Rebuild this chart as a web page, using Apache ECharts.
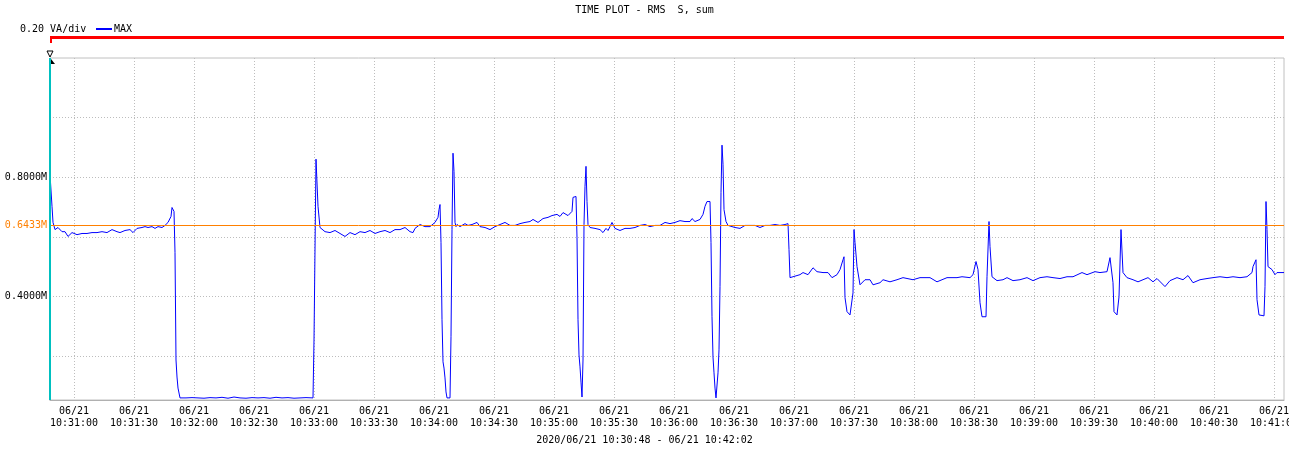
<!DOCTYPE html>
<html><head><meta charset="utf-8">
<script src="https://cdn.jsdelivr.net/npm/echarts@6/dist/echarts.min.js"></script>
<style>html,body{margin:0;padding:0;background:#fff}#c{width:1289px;height:450px}</style>
</head><body><div id="c"></div>
<script>
// ---- data (times: seconds after 10:30:48; values: MVA) ----
const titleText = 'TIME PLOT - RMS  S, sum';
const scaleText = '0.20 VA/div';
const rangeText = '2020/06/21 10:30:48 - 06/21 10:42:02';
const startLabel = '10:30:48';
const endSec = 617;
const dateLabel = '06/21';
const tickLabels = ['10:31:00','10:31:30','10:32:00','10:32:30','10:33:00','10:33:30','10:34:00','10:34:30',
  '10:35:00','10:35:30','10:36:00','10:36:30','10:37:00','10:37:30','10:38:00','10:38:30','10:39:00',
  '10:39:30','10:40:00','10:40:30','10:41:00'];
const yMin = 0.054, yMax = 1.2;
const yGridValues = [0.2, 0.4, 0.6, 0.8, 1.0];
const yLabelValues = [0.4, 0.8];
const refValue = 0.6433;

const sec = [
  0,1,1.5,2.5,4,6,7.5,9,11,13.5,16,18.5,21,23.5,26,28.5,31,33.5,35,37.5,40,41.5,43.5,46,47.5,49,51,52.5,54,56,57.5,59,60.5,61,62,62.5,63,63.5,64,65,
  68,71,74,77,80,83,86,89,92,95,98,101,104,107,110,113,116,119,122,125,128,131.5,
  132,133,133.5,134,135,
  137.5,140,142.5,145,147.5,150,152.5,155,157.5,160,162.5,165,167.5,170,172.5,175,177.5,180,181.5,182.5,185,187.5,190,192.5,194,194.5,195,
  195.5,196,196.5,197,197.5,198,198.5,200,200.5,201,201.5,202,202.5,203,
  203.5,205,207.5,209,211,213.5,215,217.5,220,222.5,225,227.5,230,232.5,235,237.5,240,241.5,244,246.5,249,251,253.5,255,256.5,259,261,261.5,263,
  263.5,264,264.5,265,265.5,266,266.5,267,267.5,268,268.5,269,270,
  272.5,275,276.5,278,279,280,281,282.5,285,287.5,290,292.5,295,297.5,300,302.5,305,307.5,310,312.5,315,317.5,320,321,322.5,325,326.5,327.5,328.5,330,
  330.5,331,331.5,332,332.5,333,333.5,334,334.5,335,335.5,336,336.5,337,338,339,
  340,342.5,345,347.5,350,352.5,355,357.5,360,362.5,365,367.5,369,369.5,370,
  371.5,375,376.5,379,381.5,383.5,386.5,389,391,393.5,395,396.5,397,397.5,398.5,400,401,401.5,402,402.5,403.5,405,
  407.5,410,411.5,415,416.5,420,423.5,426.5,431.5,435,440,443.5,448.5,453.5,456,460,461.5,463,464,465,466,468,468.5,469.5,470,471,
  473.5,476.5,478.5,481.5,485,488.5,491.5,495,498.5,501.5,505,508.5,511.5,516,518.5,522.5,525,528.5,530,531.5,532,533.5,534,534.5,535.5,536.5,
  538.5,541.5,544,546.5,549,551.5,553.5,557.5,560,563.5,566.5,569,571.5,575,578.5,581.5,585,588.5,591.5,595,598.5,601,601.5,603,603.5,604.5,607,607.5,608,608.5,609,
  611,612.5,613.5,615,617
];
const rms = [
  0.810,0.703,0.649,0.625,0.632,0.618,0.618,0.602,0.615,0.608,0.612,0.612,0.615,0.615,0.618,0.615,0.625,0.618,0.615,0.622,0.625,0.615,0.629,0.632,0.635,0.632,0.635,0.629,0.635,0.632,0.639,0.649,0.669,0.699,0.686,0.548,0.188,0.131,0.094,0.061,
  0.061,0.062,0.061,0.060,0.062,0.061,0.063,0.060,0.064,0.061,0.060,0.062,0.061,0.062,0.060,0.063,0.061,0.062,0.060,0.061,0.062,0.061,
  0.255,0.861,0.857,0.703,0.632,
  0.618,0.615,0.622,0.612,0.602,0.615,0.608,0.618,0.615,0.622,0.612,0.618,0.622,0.615,0.625,0.625,0.632,0.618,0.615,0.629,0.642,0.635,0.635,0.649,0.666,0.692,0.709,
  0.582,0.323,0.182,0.161,0.128,0.081,0.061,0.061,0.266,0.625,0.881,0.820,0.649,0.635,
  0.642,0.635,0.645,0.639,0.642,0.649,0.635,0.632,0.625,0.635,0.642,0.649,0.639,0.639,0.645,0.649,0.652,0.659,0.649,0.662,0.666,0.672,0.676,0.669,0.682,0.672,0.686,0.733,0.736,
  0.598,0.323,0.205,0.165,0.114,0.064,0.188,0.642,0.770,0.837,0.719,0.642,0.632,
  0.629,0.625,0.615,0.629,0.622,0.635,0.649,0.629,0.622,0.629,0.629,0.632,0.639,0.642,0.635,0.639,0.639,0.649,0.645,0.649,0.655,0.652,0.652,0.662,0.652,0.659,0.676,0.703,0.719,0.719,
  0.582,0.333,0.198,0.145,0.094,0.061,0.061,0.145,0.222,0.434,0.750,0.908,0.844,0.692,0.652,0.639,
  0.639,0.632,0.629,0.639,0.639,0.639,0.632,0.639,0.639,0.642,0.639,0.642,0.645,0.558,0.464,
  0.467,0.474,0.481,0.474,0.497,0.484,0.481,0.481,0.464,0.474,0.491,0.524,0.534,0.397,0.350,0.339,0.333,0.413,0.625,0.582,0.501,0.440,
  0.457,0.457,0.440,0.447,0.457,0.450,0.457,0.464,0.457,0.464,0.464,0.450,0.464,0.464,0.467,0.464,0.474,0.518,0.491,0.380,0.333,0.333,0.467,0.652,0.568,0.467,
  0.454,0.457,0.464,0.454,0.457,0.464,0.454,0.464,0.467,0.464,0.461,0.467,0.467,0.481,0.474,0.484,0.481,0.484,0.531,0.447,0.350,0.339,0.336,0.400,0.625,0.481,
  0.464,0.457,0.450,0.457,0.464,0.450,0.461,0.434,0.454,0.464,0.457,0.471,0.447,0.457,0.461,0.464,0.467,0.464,0.467,0.464,0.467,0.481,0.501,0.524,0.390,0.339,0.336,0.434,0.719,0.625,0.501,
  0.491,0.474,0.481,0.481,0.481
];

// ---- chart ----
function toSec(s){const p=s.split(':').map(Number);return p[0]*3600+p[1]*60+p[2];}
const t0 = toSec(startLabel);
const tickSecs = tickLabels.map(l => toSec(l) - t0);
const seriesData = sec.map((s, i) => [s, rms[i]]);
const FONT = 'DejaVu Sans Mono';
const FS = 10;
const G = {left: 50, right: 5, top: 58, bottom: 50};

const chart = echarts.init(document.getElementById('c'), null, {renderer: 'canvas'});
chart.setOption({
  animation: false,
  backgroundColor: '#ffffff',
  textStyle: {fontFamily: FONT},
  title: [
    {text: titleText, left: 'center', top: 5, padding: 0, textStyle: {fontFamily: FONT, fontSize: FS, fontWeight: 'normal', color: '#000'}},
    {text: scaleText, left: 20, top: 24, padding: 0, textStyle: {fontFamily: FONT, fontSize: FS, fontWeight: 'normal', color: '#000'}},
    {text: rangeText, left: 'center', top: 435, padding: 0, textStyle: {fontFamily: FONT, fontSize: FS, fontWeight: 'normal', color: '#000'}}
  ],
  legend: {
    data: ['MAX'], left: 96, top: 24, padding: 0, itemGap: 0,
    icon: 'rect', itemWidth: 16, itemHeight: 2,
    textStyle: {fontFamily: FONT, fontSize: FS, color: '#000', padding: [0, 0, 0, -3]}
  },
  grid: {left: G.left, right: G.right, top: G.top, bottom: G.bottom, show: true, borderColor: '#c0c0c0', borderWidth: 1,
         containLabel: false, outerBoundsMode: 'none'},
  xAxis: {
    type: 'value', min: 0, max: endSec,
    axisLine: {show: true, lineStyle: {color: '#b0b0b0', width: 1}},
    axisTick: {show: false, customValues: tickSecs},
    axisLabel: {
      customValues: tickSecs, margin: 5, fontFamily: FONT, fontSize: FS, color: '#000', lineHeight: 12,
      hideOverlap: false,
      formatter: v => { const i = tickSecs.indexOf(v); return i < 0 ? '' : dateLabel + '\n' + tickLabels[i]; }
    },
    splitLine: {show: true, lineStyle: {color: '#bdbdbd', type: [1, 2], width: 1}}
  },
  yAxis: {
    type: 'value', min: yMin, max: yMax,
    axisLine: {show: false}, axisTick: {show: false, customValues: yGridValues},
    axisLabel: {
      customValues: yLabelValues, margin: 3, fontFamily: FONT, fontSize: FS, color: '#000',
      formatter: v => v.toFixed(4) + 'M'
    },
    splitLine: {show: true, lineStyle: {color: '#bdbdbd', type: [1, 2], width: 1}}
  },
  series: [{
    name: 'MAX', type: 'line', data: seriesData, showSymbol: false, symbol: 'none',
    lineStyle: {color: '#0000ff', width: 1}, itemStyle: {color: '#0000ff'},
    markLine: {
      silent: true, symbol: 'none', animation: false,
      data: [
        {yAxis: refValue, lineStyle: {color: '#ff8000', width: 1, type: 'solid'},
         label: {show: true, position: 'start', distance: 3, formatter: refValue.toFixed(4) + 'M', color: '#ff8000', fontFamily: FONT, fontSize: FS}},
        {xAxis: 0, lineStyle: {color: '#00c0c0', width: 2, type: 'solid'}, label: {show: false}}
      ]
    }
  }],
  graphic: [
    {type: 'rect', shape: {x: G.left, y: 36, width: 1289 - G.left - G.right, height: 3}, style: {fill: '#ff0000'}, silent: true},
    {type: 'rect', shape: {x: G.left, y: 36, width: 2, height: 7}, style: {fill: '#ff0000'}, silent: true},
    {type: 'polygon', shape: {points: [[47, 51], [53, 51], [50, 57]]}, style: {fill: '#fff', stroke: '#000', lineWidth: 1}, silent: true},
    {type: 'polygon', shape: {points: [[51, 59], [51, 64], [55, 64]]}, style: {fill: '#000'}, silent: true}
  ]
});
</script>
</body></html>
